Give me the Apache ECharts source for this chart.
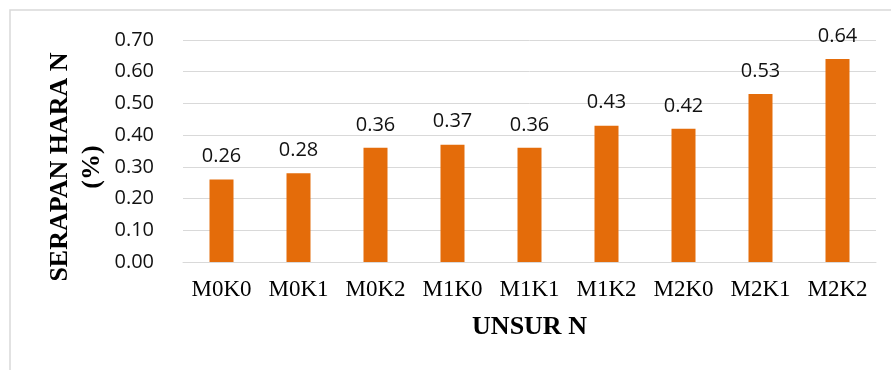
<!DOCTYPE html>
<html>
<head>
<meta charset="utf-8">
<script src="https://cdn.jsdelivr.net/npm/echarts@6/dist/echarts.min.js"></script>
<style>
  html, body { margin: 0; padding: 0; background: #fff; }
  #chart { width: 891px; height: 370px; }
</style>
</head>
<body>
<div id="chart"></div>
<script>
// Treatment combinations (M = mulch level, K = potassium level)
const categories = ['M0K0', 'M0K1', 'M0K2', 'M1K0', 'M1K1', 'M1K2', 'M2K0', 'M2K1', 'M2K2'];
// Nitrogen uptake (%)
const uptakeN = [0.26, 0.28, 0.36, 0.37, 0.36, 0.43, 0.42, 0.53, 0.64];
// Value axis range
const yMin = 0;
const yMax = 0.7;
const yStep = 0.1;

const serif = '"Liberation Serif", "Times New Roman", serif';
const sans = '"Open Sans", "Noto Sans", sans-serif';

const chart = echarts.init(document.getElementById('chart'), null, { renderer: 'canvas' });

chart.setOption({
  animation: false,
  backgroundColor: '#ffffff',
  grid: { left: 183, right: 15, top: 40, bottom: 108, containLabel: false },
  graphic: [
    {
      type: 'rect',
      shape: { x: 10, y: 10, width: 900, height: 380 },
      style: { fill: 'none', stroke: '#d9d9d9', lineWidth: 1.5 },
      silent: true
    },
    {
      type: 'text',
      x: 76, y: 167,
      rotation: Math.PI / 2,
      style: {
        text: 'SERAPAN HARA N\n(%)',
        font: 'bold 26px ' + serif,
        fill: '#000',
        align: 'center',
        verticalAlign: 'middle',
        lineHeight: 32
      }
    }
  ],
  xAxis: {
    type: 'category',
    data: categories,
    name: 'UNSUR N',
    nameLocation: 'middle',
    nameGap: 52,
    nameTextStyle: {
      fontFamily: serif,
      fontWeight: 'bold',
      fontSize: 26,
      color: '#000'
    },
    axisLine: { show: true, lineStyle: { color: '#d9d9d9', width: 1 } },
    axisTick: { show: false },
    axisLabel: {
      interval: 0,
      hideOverlap: false,
      margin: 16,
      fontFamily: serif,
      fontSize: 23,
      color: '#000'
    }
  },
  yAxis: {
    type: 'value',
    min: yMin,
    max: yMax,
    interval: yStep,
    axisLine: { show: false },
    axisTick: { show: false },
    splitLine: { show: true, lineStyle: { color: '#d9d9d9', width: 1 } },
    axisLabel: {
      margin: 29,
      fontFamily: sans,
      fontSize: 20,
      color: '#111',
      formatter: v => v.toFixed(2)
    }
  },
  series: [{
    type: 'bar',
    data: uptakeN,
    barWidth: 24,
    itemStyle: { color: '#E46C0A' },
    label: {
      show: true,
      position: 'top',
      distance: 13,
      fontFamily: sans,
      fontSize: 20,
      color: '#111',
      formatter: p => p.value.toFixed(2)
    }
  }]
});
</script>
</body>
</html>
